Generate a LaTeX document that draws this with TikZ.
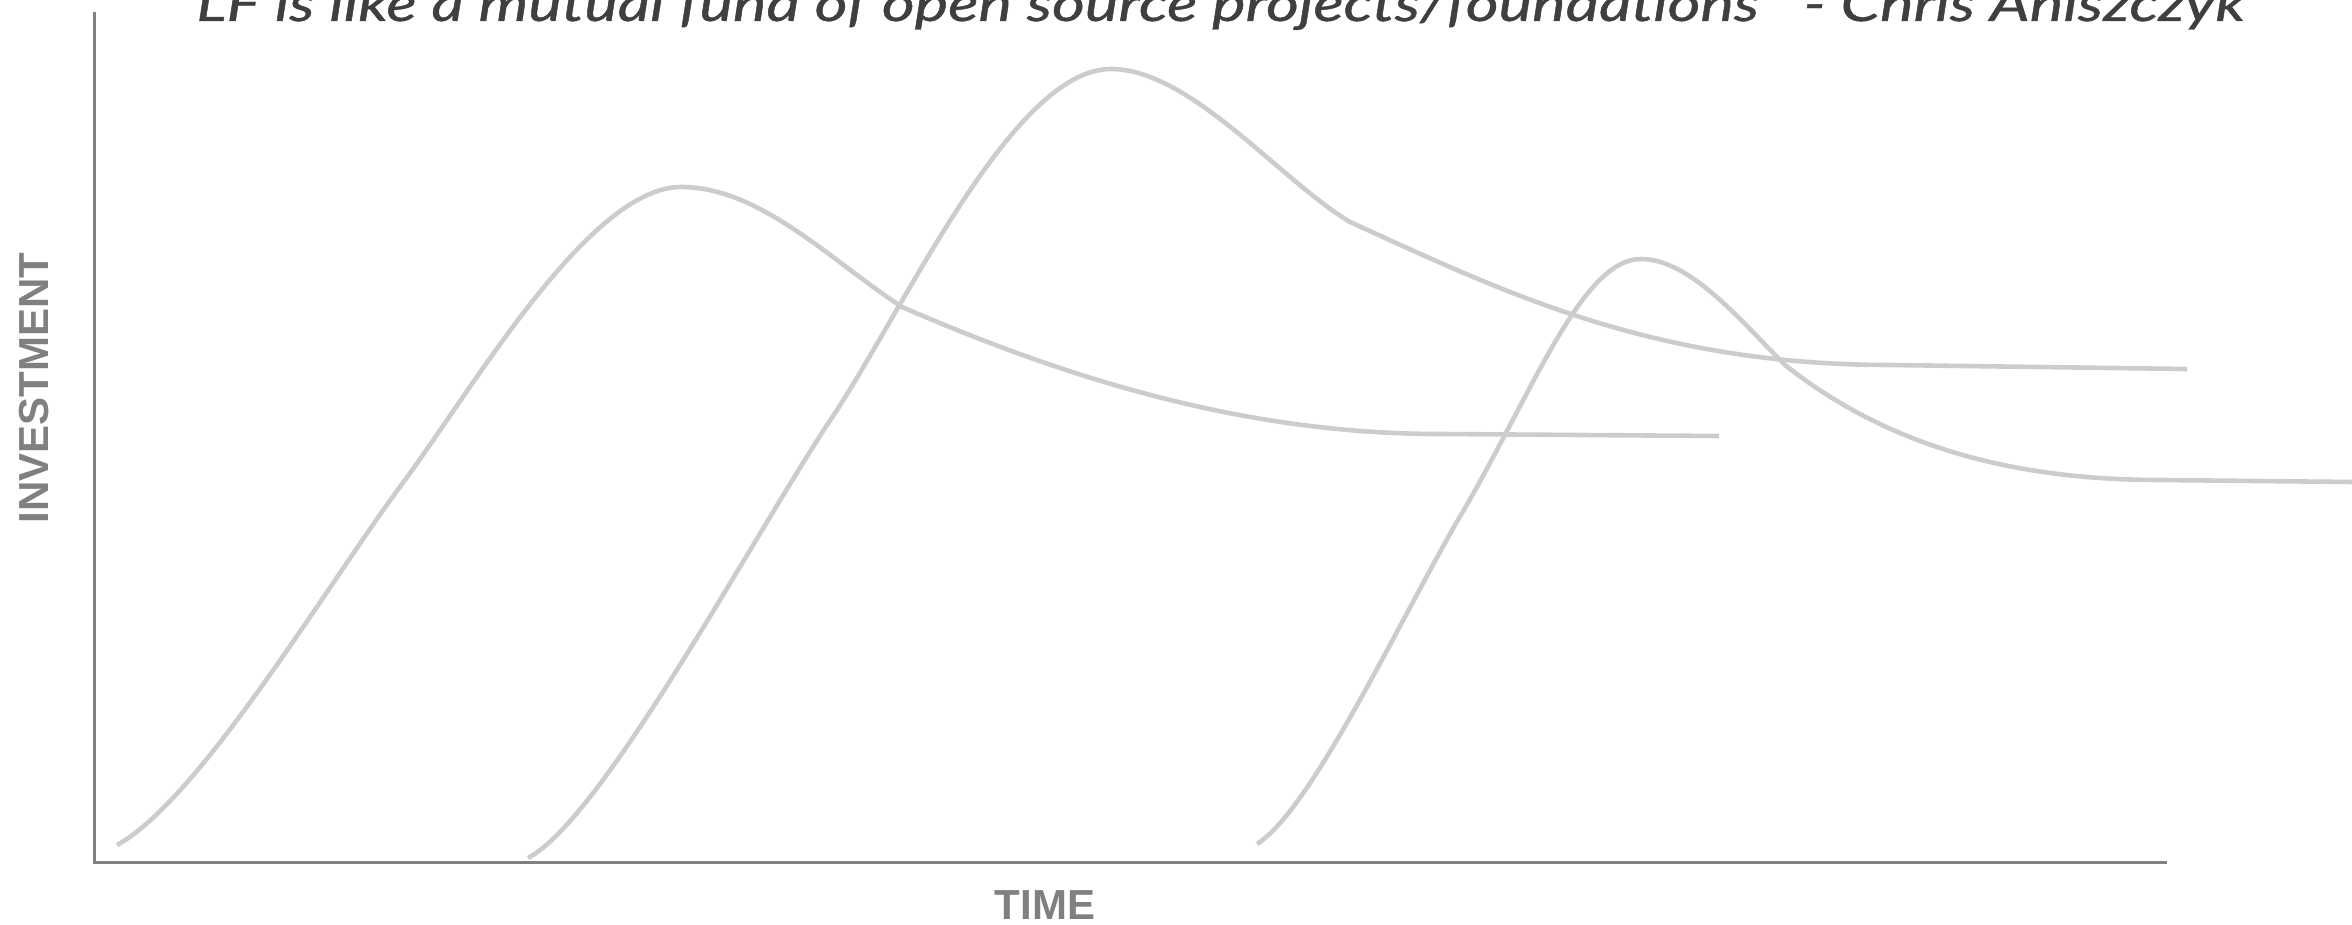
\documentclass[tikz,border=0pt]{standalone}
\usepackage{fontspec}
\usepackage{graphicx}
\newfontfamily\titlefont[FakeBold=0.8]{Lato}
\newfontfamily\labelfont{Liberation Sans}
\definecolor{curvegray}{HTML}{CCCCCC}
\definecolor{axisgray}{HTML}{808080}
\definecolor{titlegray}{HTML}{3F3F3F}
\begin{document}
\begin{tikzpicture}[x=0.5pt,y=-0.5pt,
  curve/.style={curvegray,line width=2.3pt,line join=round},
  axisline/.style={axisgray,line width=1.5pt},
  axislabel/.style={text=axisgray,font=\labelfont\bfseries\fontsize{21}{25}\selectfont,inner sep=0pt}]
\useasboundingbox (0,0) rectangle (2352,925);
\clip (0,0) rectangle (2352,925);
% title (clipped at the top)
\node[anchor=base west,inner sep=0pt,text=titlegray] (title) at (196,21)
  {\resizebox{1024pt}{\height}{\titlefont\itshape\fontsize{24.7}{30}\selectfont LF is like a mutual fund of open source projects/foundations\ \ \ - Chris Aniszczyk}};
% axes
\coordinate (ytop) at (94,12);
\coordinate (origin) at (94,862);
\coordinate (xend) at (2167,862);
\draw[axisline] (ytop) -- (origin) -- (xend);
\node[axislabel,rotate=90] (ylabel) at (34,388) {INVESTMENT};
\node[axislabel] (xlabel) at (1045,905) {TIME};
% curve 1
\coordinate (a0) at (117,845);
\coordinate (a1) at (405,480);
\coordinate (a2) at (681,187);
\coordinate (a3) at (902,307);
\coordinate (a4) at (1440,434);
\coordinate (a5) at (1719,436);
\draw[curve] (a0) .. controls (200,800) and (330,580) .. (a1)
  .. controls (475,385) and (590,187) .. (a2)
  .. controls (760,187) and (830,260) .. (a3)
  .. controls (1075,382) and (1250,434) .. (a4) -- (a5);
% curve 2
\coordinate (b0) at (528,858);
\coordinate (b1) at (825,428);
\coordinate (b2) at (1111,69);
\coordinate (b3) at (1350,222);
\coordinate (b4) at (1890,365);
\coordinate (b5) at (2187,369);
\draw[curve] (b0) .. controls (600,820) and (740,560) .. (b1)
  .. controls (900,320) and (1010,69) .. (b2)
  .. controls (1190,69) and (1280,180) .. (b3)
  .. controls (1500,290) and (1650,365) .. (b4) -- (b5);
% curve 3
\coordinate (c0) at (1257,844);
\coordinate (c1) at (1455,525);
\coordinate (c2) at (1641,259);
\coordinate (c3) at (1785,365);
\coordinate (c4) at (2160,480);
\coordinate (c5) at (2352,482);
\draw[curve] (c0) .. controls (1310,810) and (1390,640) .. (c1)
  .. controls (1530,400) and (1580,259) .. (c2)
  .. controls (1690,259) and (1740,320) .. (c3)
  .. controls (1880,440) and (2000,480) .. (c4) -- (c5);
\end{tikzpicture}
\end{document}
